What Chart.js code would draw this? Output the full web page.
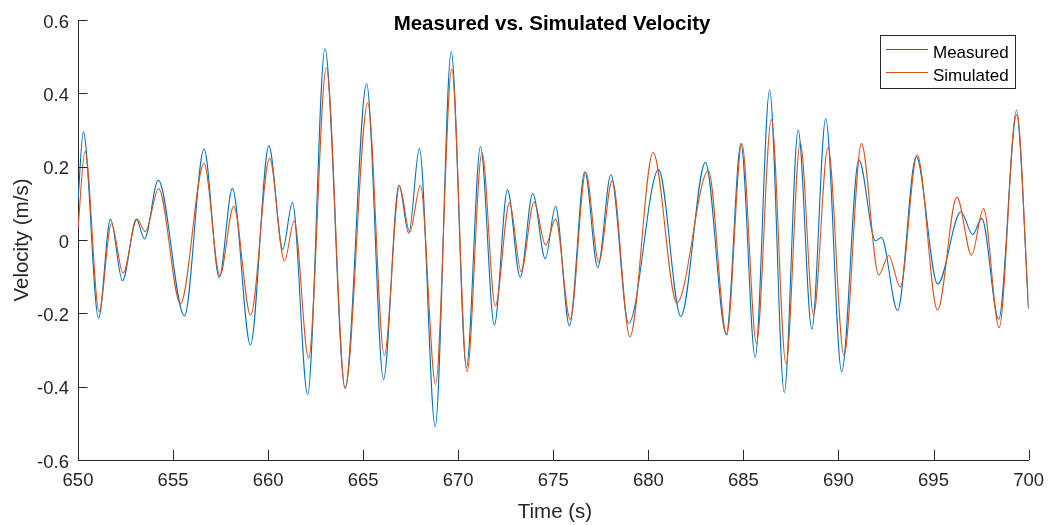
<!DOCTYPE html>
<html>
<head>
<meta charset="utf-8">
<script src="https://cdn.jsdelivr.net/npm/chart.js@4.4.1/dist/chart.umd.min.js"></script>
<style>
  html, body { margin: 0; padding: 0; background: #ffffff; }
  canvas { display: block; }
</style>
</head>
<body>
<canvas id="c" width="1054" height="525"></canvas>
<script>
// ---- data (time in s, velocity in m/s) ----
const measuredTime = [650.00, 650.28, 651.08, 651.71, 652.34, 653.07, 653.50, 654.22, 655.60, 656.63, 657.43, 658.12, 659.07, 660.04, 660.77, 661.28, 662.08, 662.99, 664.05, 665.18, 666.07, 666.88, 667.40, 667.96, 668.79, 669.63, 670.43, 671.17, 671.90, 672.59, 673.26, 673.92, 674.58, 675.12, 675.85, 676.66, 677.34, 678.03, 678.96, 680.54, 681.71, 683.00, 684.10, 684.87, 685.62, 686.38, 687.15, 687.88, 688.60, 689.33, 690.17, 691.07, 691.95, 692.26, 693.11, 694.09, 695.22, 696.44, 697.06, 697.54, 698.43, 699.37, 700.00];
const measuredVel = [0.108, 0.295, -0.213, 0.057, -0.111, 0.057, 0.003, 0.163, -0.207, 0.248, -0.102, 0.141, -0.286, 0.257, -0.025, 0.102, -0.422, 0.522, -0.405, 0.427, -0.380, 0.150, 0.018, 0.250, -0.509, 0.514, -0.349, 0.255, -0.232, 0.137, -0.102, 0.127, -0.051, 0.092, -0.234, 0.186, -0.075, 0.178, -0.227, 0.192, -0.208, 0.212, -0.257, 0.263, -0.320, 0.410, -0.416, 0.300, -0.243, 0.331, -0.359, 0.219, -0.002, 0.007, -0.192, 0.228, -0.120, 0.077, 0.015, 0.059, -0.216, 0.342, -0.189];

const simulatedTime = [650.00, 650.37, 651.11, 651.76, 652.37, 653.10, 653.54, 654.24, 655.39, 656.63, 657.46, 658.19, 659.08, 660.08, 660.86, 661.37, 662.13, 663.06, 664.05, 665.24, 666.11, 666.91, 667.45, 668.01, 668.81, 669.66, 670.46, 671.25, 671.95, 672.70, 673.31, 673.99, 674.60, 675.12, 675.89, 676.71, 677.39, 678.10, 679.03, 680.25, 681.50, 683.16, 684.12, 684.92, 685.69, 686.47, 687.24, 687.99, 688.69, 689.45, 690.29, 691.21, 692.12, 692.64, 693.25, 694.14, 695.21, 696.23, 697.00, 697.63, 698.45, 699.37, 700.00];
const simulatedVel = [0.032, 0.242, -0.195, 0.045, -0.090, 0.057, 0.023, 0.140, -0.173, 0.209, -0.097, 0.092, -0.205, 0.223, -0.057, 0.052, -0.322, 0.470, -0.404, 0.374, -0.315, 0.147, 0.022, 0.149, -0.394, 0.467, -0.359, 0.239, -0.180, 0.102, -0.086, 0.104, -0.014, 0.057, -0.216, 0.185, -0.060, 0.162, -0.264, 0.239, -0.171, 0.189, -0.259, 0.263, -0.282, 0.329, -0.338, 0.266, -0.203, 0.254, -0.315, 0.263, -0.095, -0.042, -0.128, 0.232, -0.191, 0.117, -0.041, 0.086, -0.239, 0.354, -0.185];

const xTickLabels = ['650', '655', '660', '665', '670', '675', '680', '685', '690', '695', '700'];
const yTickLabels = ['-0.6', '-0.4', '-0.2', '0', '0.2', '0.4', '0.6'];
const seriesNames = ['Measured', 'Simulated'];
const titleText = 'Measured vs. Simulated Velocity';
const xLabelText = 'Time (s)';
const yLabelText = 'Velocity (m/s)';

// ---- styling ----
const FONT = '"Liberation Sans", Arial, Helvetica, sans-serif';
const AXIS_COLOR = '#262626';
const BLUE = '#0072BD';
const ORANGE = '#D95319';

const toPoints = (xs, ys) => xs.map((x, i) => ({ x: x, y: ys[i] }));

const overlay = {
  id: 'overlay',
  afterDraw(chart) {
    const ctx = chart.ctx;
    const xs = chart.scales.x, ys = chart.scales.y;
    const a = chart.chartArea;
    ctx.save();
    // inward tick marks
    ctx.strokeStyle = AXIS_COLOR;
    ctx.lineWidth = 1;
    ctx.beginPath();
    xs.ticks.forEach(t => {
      const px = Math.round(xs.getPixelForValue(t.value)) + 0.5;
      ctx.moveTo(px, a.bottom);
      ctx.lineTo(px, a.bottom - 10);
    });
    ys.ticks.forEach(t => {
      const py = Math.round(ys.getPixelForValue(t.value)) + 0.5;
      ctx.moveTo(a.left, py);
      ctx.lineTo(a.left + 9.5, py);
    });
    ctx.stroke();

    // title
    ctx.fillStyle = '#000000';
    ctx.font = 'bold 20.5px ' + FONT;
    ctx.textAlign = 'center';
    ctx.textBaseline = 'alphabetic';
    ctx.fillText(titleText, 552, 29.5);

    // axis labels
    ctx.fillStyle = AXIS_COLOR;
    ctx.font = '20.5px ' + FONT;
    ctx.fillText(xLabelText, 555, 517.5);
    ctx.save();
    ctx.translate(28, (a.top + a.bottom) / 2);
    ctx.rotate(-Math.PI / 2);
    ctx.fillText(yLabelText, 0, 0);
    ctx.restore();

    // legend
    const lx = 880.5, ly = 35.5, lw = 135, lh = 53;
    ctx.fillStyle = '#ffffff';
    ctx.fillRect(lx, ly, lw, lh);
    ctx.strokeStyle = AXIS_COLOR;
    ctx.lineWidth = 1;
    ctx.strokeRect(lx, ly, lw, lh);
    const rows = [49.5, 72.5];
    chart.data.datasets.forEach((ds, i) => {
      ctx.strokeStyle = ds.borderColor;
      ctx.lineWidth = 1.1;
      ctx.beginPath();
      ctx.moveTo(886, rows[i]);
      ctx.lineTo(928, rows[i]);
      ctx.stroke();
      ctx.fillStyle = '#000000';
      ctx.font = '17px ' + FONT;
      ctx.textAlign = 'left';
      ctx.textBaseline = 'alphabetic';
      ctx.fillText(ds.label, 933, rows[i] + 8.3);
    });
    ctx.restore();
  }
};

new Chart(document.getElementById('c'), {
  type: 'line',
  data: {
    datasets: [
      {
        label: seriesNames[0],
        data: toPoints(measuredTime, measuredVel),
        borderColor: BLUE,
        borderWidth: 1.1,
        pointRadius: 0,
        cubicInterpolationMode: 'monotone',
        fill: false,
        order: 1
      },
      {
        label: seriesNames[1],
        data: toPoints(simulatedTime, simulatedVel),
        borderColor: ORANGE,
        borderWidth: 1.1,
        pointRadius: 0,
        cubicInterpolationMode: 'monotone',
        fill: false,
        order: 0
      }
    ]
  },
  options: {
    responsive: false,
    animation: false,
    events: [],
    layout: { padding: { left: 0, right: 20, top: 16, bottom: 0 } },
    plugins: {
      legend: { display: false },
      tooltip: { enabled: false },
      title: { display: false }
    },
    scales: {
      x: {
        type: 'linear',
        min: 650,
        max: 700,
        grid: { display: false, drawTicks: false },
        border: { display: true, color: AXIS_COLOR, width: 1 },
        ticks: {
          stepSize: 5,
          padding: 10,
          color: AXIS_COLOR,
          font: { family: FONT, size: 18.5 },
          maxRotation: 0,
          autoSkip: false,
          callback: (v, i) => xTickLabels[i]
        },
        afterFit: s => { s.height = 65; }
      },
      y: {
        type: 'linear',
        min: -0.6,
        max: 0.6,
        grid: { display: false, drawTicks: false },
        border: { display: true, color: AXIS_COLOR, width: 1 },
        ticks: {
          stepSize: 0.2,
          padding: 9,
          labelOffset: 2.5,
          color: AXIS_COLOR,
          font: { family: FONT, size: 18.5 },
          autoSkip: false,
          callback: (v, i) => yTickLabels[i]
        },
        afterFit: s => { s.width = 78; }
      }
    }
  },
  plugins: [overlay]
});
</script>
</body>
</html>
